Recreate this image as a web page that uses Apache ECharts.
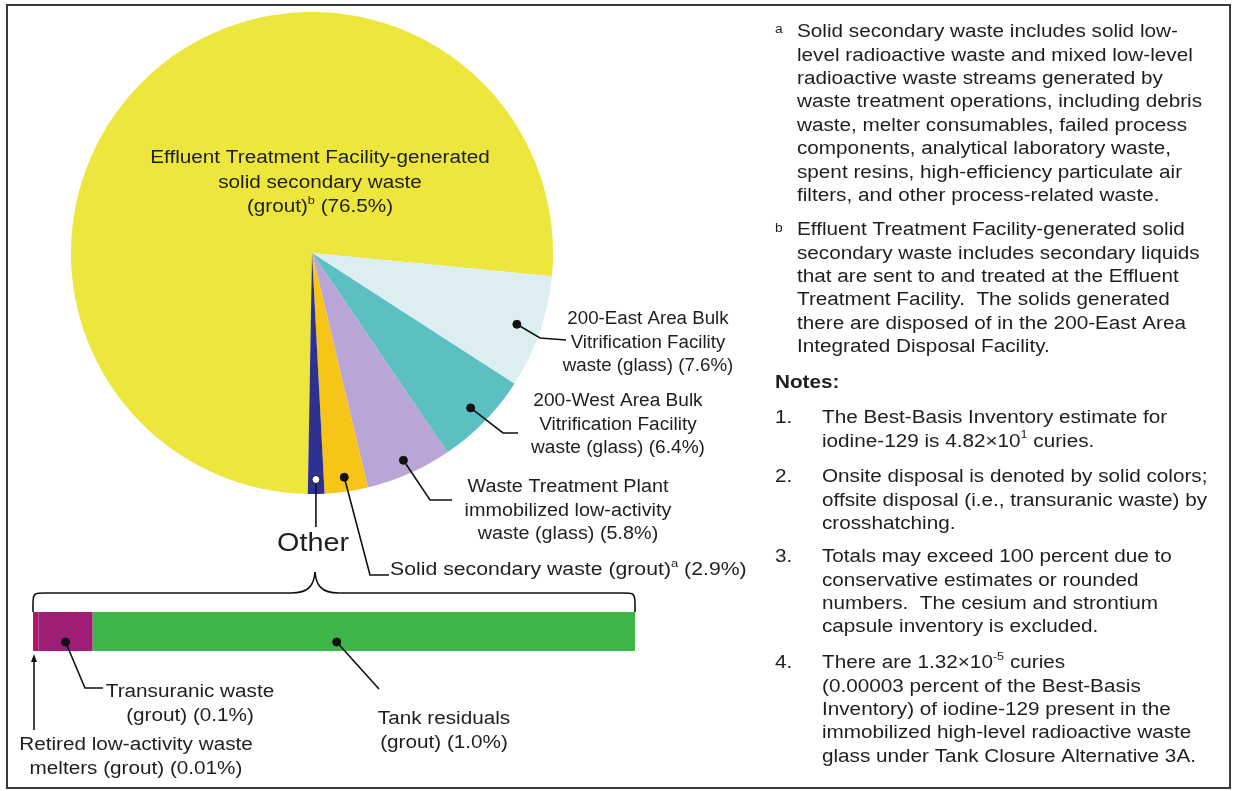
<!DOCTYPE html>
<html>
<head>
<meta charset="utf-8">
<script src="https://cdn.jsdelivr.net/npm/echarts@6/dist/echarts.min.js"></script>
<style>
  html, body { margin: 0; padding: 0; background: #fff; }
  #main { width: 1233px; height: 791px; }
</style>
</head>
<body>
<div id="main"></div>
<script>
// pie slices, clockwise from the bottom
const pieNames = [
  'Effluent Treatment Facility-generated solid secondary waste (grout)',
  '200-East Area Bulk Vitrification Facility waste (glass)',
  '200-West Area Bulk Vitrification Facility waste (glass)',
  'Waste Treatment Plant immobilized low-activity waste (glass)',
  'Solid secondary waste (grout)',
  'Other'
];
const pieValues = [76.5, 7.6, 6.4, 5.8, 2.9];
const pieColors = ['#ECE63D', '#DCEEF1', '#5CBFC1', '#B9A6D6', '#F7C518', '#2E3192'];

// breakdown of "Other"
const otherNames = ['Retired low-activity waste melters (grout)', 'Transuranic waste (grout)', 'Tank residuals (grout)'];
const otherValues = [0.01, 0.1, 1.0];

const otherTotal = otherValues.reduce((a, b) => a + b, 0);
const FONT = '"Liberation Sans", Arial, sans-serif';
const INK = '#1e1e1e';
const SX = 1.15; // the source lettering is a little wide

function hatch() {
  let c = document.createElement('canvas');
  c.width = 6; c.height = 6;
  let g = c.getContext('2d');
  g.fillStyle = '#B0176A';
  g.fillRect(0, 0, 6, 6);
  g.strokeStyle = '#7D2C8C';
  g.lineWidth = 1;
  g.beginPath();
  g.moveTo(0, 0); g.lineTo(6, 6);
  g.moveTo(6, 0); g.lineTo(0, 6);
  g.stroke();
  return c;
}
const otherColors = ['#B0176A', { image: hatch(), repeat: 'repeat' }, '#3DB64A'];

let chart = echarts.init(document.getElementById('main'));

let pieData = pieValues.concat([otherTotal]).map((v, i) => ({
  name: pieNames[i], value: v, itemStyle: { color: pieColors[i] }
}));

chart.setOption({
  animation: false,
  grid: { left: 33, top: 612, width: 602, height: 39 },
  xAxis: { type: 'value', min: 0, max: otherTotal, show: false },
  yAxis: { type: 'category', data: ['Other'], show: false },
  series: [{
    type: 'pie',
    center: [312, 253],
    radius: 241,
    startAngle: 269,
    silent: true,
    label: { show: false },
    labelLine: { show: false },
    emphasis: { disabled: true },
    itemStyle: { borderWidth: 0 },
    data: pieData
  }].concat(otherNames.map((n, i) => ({
    type: 'bar',
    name: n,
    stack: 'other',
    barWidth: '100%',
    silent: true,
    itemStyle: { color: otherColors[i] },
    data: [otherValues[i]]
  })))
});

// positions of marks, read back from the library layout
let layoutData = chart.getModel().getSeriesByIndex(0).getData();
function sliceDot(i, f) {
  let l = layoutData.getItemLayout(i);
  let a = (l.startAngle + l.endAngle) / 2;
  return [l.cx + l.r * f * Math.cos(a), l.cy + l.r * f * Math.sin(a)];
}
let cum = [0];
otherValues.forEach((v, i) => cum.push(cum[i] + v));
function barX(v) { return chart.convertToPixel({ gridIndex: 0 }, [v, 0])[0]; }
let barBottom = chart.convertToPixel({ gridIndex: 0 }, [0, 0])[1] + 19.5;

let g = [];
function text(x, y, str, opts, sx) {
  g.push({
    type: 'text', x: x, y: y, z: 100, scaleX: sx || SX,
    style: Object.assign({
      text: str, fill: INK, font: '18px ' + FONT,
      align: 'center', verticalAlign: 'middle', lineHeight: 24
    }, opts || {})
  });
}
function lead(pts) {
  g.push({ type: 'polyline', z: 100, shape: { points: pts }, style: { stroke: '#111', lineWidth: 1.6, fill: null } });
}
function dot(p, fill) {
  g.push({ type: 'circle', z: 101, shape: { cx: p[0], cy: p[1], r: 4 }, style: { fill: fill || '#111', stroke: '#111', lineWidth: 1 } });
}
const sup = { fontSize: 11, verticalAlign: 'top', fontFamily: FONT, fill: INK };

// frame
g.push({ type: 'rect', z: 90, shape: { x: 7, y: 5, width: 1223, height: 783 }, style: { fill: null, stroke: '#3a3a3a', lineWidth: 2 } });

// pie labels
text(320, 183, 'Effluent Treatment Facility-generated\nsolid secondary waste\n(grout){s|b} (76.5%)', { lineHeight: 24.5, rich: { s: sup } });

let p1 = sliceDot(1, 0.9);
lead([p1, [540, 338], [566, 340]]); dot(p1);
text(648, 343, '200-East Area Bulk\nVitrification Facility\nwaste (glass) (7.6%)', { lineHeight: 23.5 }, 1.04);

let p2 = sliceDot(2, 0.92);
lead([p2, [503, 433], [518, 433]]); dot(p2);
text(618, 425, '200-West Area Bulk\nVitrification Facility\nwaste (glass) (6.4%)', { lineHeight: 23.5 }, 1.06);

let p3 = sliceDot(3, 0.94);
lead([p3, [430, 500], [452, 500]]); dot(p3);
text(568, 511, 'Waste Treatment Plant\nimmobilized low-activity\nwaste (glass) (5.8%)', { lineHeight: 23.5 }, 1.1);

let p4 = sliceDot(4, 0.94);
lead([p4, [370, 575], [389, 575]]); dot(p4);
text(390, 570, 'Solid secondary waste (grout){s|a} (2.9%)', { align: 'left', rich: { s: sup } }, 1.18);

let p5 = sliceDot(5, 0.94);
lead([p5, [p5[0], 527]]); dot(p5, '#fff');
text(313, 544, 'Other', { font: '25px ' + FONT });

// brace over the bar
let bl = barX(0), br = barX(otherTotal), bm = 315;
let by = 593, bt = 612;
const braceStyle = { stroke: '#111', lineWidth: 1.6, fill: null };
g.push({ type: 'polyline', z: 100, style: braceStyle, shape: { points: [[bl, bt], [bl, by + 10]] } });
g.push({ type: 'bezierCurve', z: 100, style: braceStyle, shape: { x1: bl, y1: by + 10, cpx1: bl, cpy1: by, x2: bl + 12, y2: by, cpx2: bl + 2, cpy2: by } });
g.push({ type: 'polyline', z: 100, style: braceStyle, shape: { points: [[bl + 12, by], [bm - 24, by]] } });
g.push({ type: 'bezierCurve', z: 100, style: braceStyle, shape: { x1: bm - 24, y1: by, cpx1: bm - 6, cpy1: by, x2: bm, y2: 572, cpx2: bm - 1, cpy2: 585 } });
g.push({ type: 'bezierCurve', z: 100, style: braceStyle, shape: { x1: bm, y1: 572, cpx1: bm + 1, cpy1: 585, x2: bm + 24, y2: by, cpx2: bm + 6, cpy2: by } });
g.push({ type: 'polyline', z: 100, style: braceStyle, shape: { points: [[bm + 24, by], [br - 12, by]] } });
g.push({ type: 'bezierCurve', z: 100, style: braceStyle, shape: { x1: br - 12, y1: by, cpx1: br - 2, cpy1: by, x2: br, y2: by + 10, cpx2: br, cpy2: by } });
g.push({ type: 'polyline', z: 100, style: braceStyle, shape: { points: [[br, by + 10], [br, bt]] } });

// bar labels
let q1 = [(barX(cum[1]) + barX(cum[2])) / 2, barBottom - 9];
lead([q1, [85, 688], [103, 688]]); dot(q1);
text(190, 704, 'Transuranic waste\n(grout) (0.1%)');

let q2 = [barX(cum[2]) + (barX(cum[3]) - barX(cum[2])) * 0.45, barBottom - 9];
lead([q2, [379, 689]]); dot(q2);
text(444, 731, 'Tank residuals\n(grout) (1.0%)');

let ax = barX(0) + 1;
lead([[ax, barBottom + 10], [ax, 730]]);
g.push({ type: 'polygon', z: 100, shape: { points: [[ax, barBottom + 3], [ax - 3, barBottom + 11], [ax + 3, barBottom + 11]] }, style: { fill: '#111' } });
text(136, 757, 'Retired low-activity waste\nmelters (grout) (0.01%)');

// footnotes and notes on the right
const R = { font: '18px ' + FONT, align: 'left', verticalAlign: 'top', lineHeight: 23.4 };
const supR = Object.assign({}, R, { font: '12px ' + FONT });
text(775, 18, 'a', supR);
text(797, 20.5, 'Solid secondary waste includes solid low-\nlevel radioactive waste and mixed low-level\nradioactive waste streams generated by\nwaste treatment operations, including debris\nwaste, melter consumables, failed process\ncomponents, analytical laboratory waste,\nspent resins, high-efficiency particulate air\nfilters, and other process-related waste.', R);
text(775, 217, 'b', supR);
text(797, 218.5, 'Effluent Treatment Facility-generated solid\nsecondary waste includes secondary liquids\nthat are sent to and treated at the Effluent\nTreatment Facility.  The solids generated\nthere are disposed of in the 200-East Area\nIntegrated Disposal Facility.', R);
text(775, 371.5, 'Notes:', Object.assign({}, R, { font: 'bold 18px ' + FONT }));

text(775, 406.5, '1.', R);
text(822, 406.5, 'The Best-Basis Inventory estimate for\niodine-129 is 4.82×10{s|1} curies.', Object.assign({}, R, { rich: { s: sup } }));
text(775, 465.5, '2.', R);
text(822, 465.5, 'Onsite disposal is denoted by solid colors;\noffsite disposal (i.e., transuranic waste) by\ncrosshatching.', R);
text(775, 545.5, '3.', R);
text(822, 545.5, 'Totals may exceed 100 percent due to\nconservative estimates or rounded\nnumbers.  The cesium and strontium\ncapsule inventory is excluded.', R);
text(775, 651.5, '4.', R);
text(822, 651.5, 'There are 1.32×10{s|-5} curies\n(0.00003 percent of the Best-Basis\nInventory) of iodine-129 present in the\nimmobilized high-level radioactive waste\nglass under Tank Closure Alternative 3A.', Object.assign({}, R, { rich: { s: sup } }));

chart.setOption({ graphic: g });
</script>
</body>
</html>
